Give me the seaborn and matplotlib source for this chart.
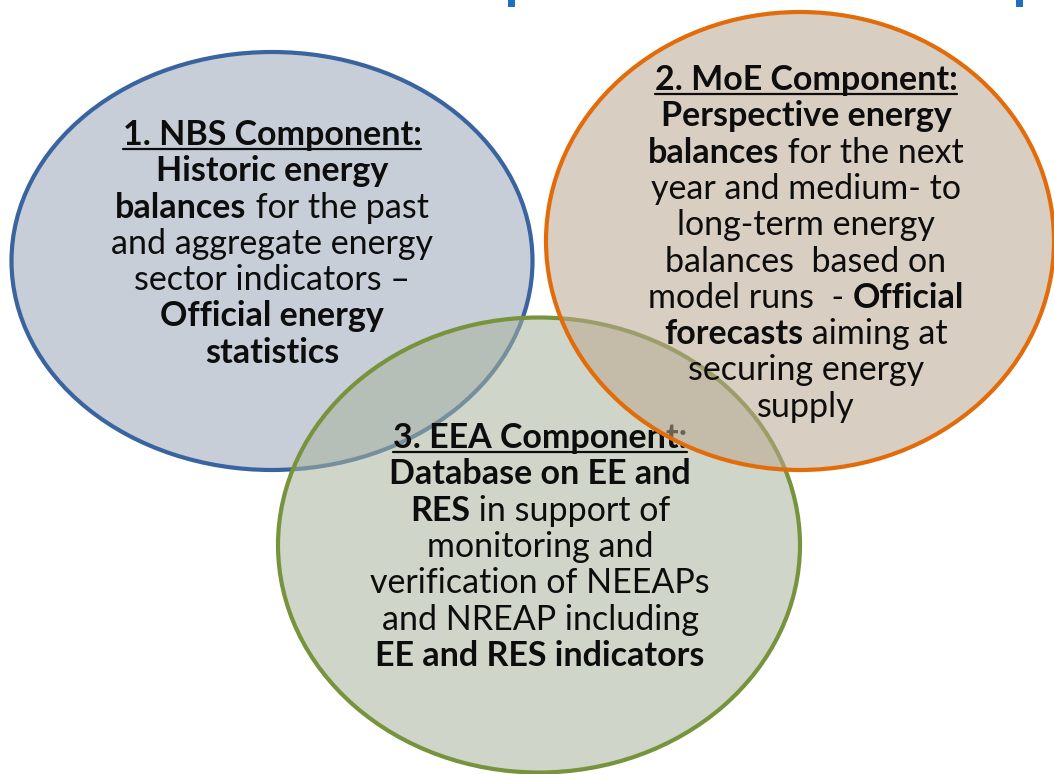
import matplotlib
matplotlib.use("Agg")
import matplotlib.pyplot as plt
from matplotlib.patches import Ellipse, Rectangle
import seaborn as sns

# text content of the three components, one entry per line, (text, bold) runs
nbs_lines = [
    [("1. NBS Component:", True)],
    [("Historic energy", True)],
    [("balances", True), (" for the past", False)],
    [("and aggregate energy", False)],
    [("sector indicators \u2013", False)],
    [("Official energy", True)],
    [("statistics", True)],
]
moe_lines = [
    [("2. MoE Component:", True)],
    [("Perspective energy", True)],
    [("balances", True), (" for the next", False)],
    [("year and medium- to", False)],
    [("long-term energy", False)],
    [("balances  based on", False)],
    [("model runs  - ", False), ("Official", True)],
    [("forecasts", True), (" aiming at", False)],
    [("securing energy", False)],
    [("supply", False)],
]
eea_lines = [
    [("3. EEA Component:", True)],
    [("Database on EE and", True)],
    [("RES", True), (" in support of", False)],
    [("monitoring and", False)],
    [("verification of NEEAPs", False)],
    [("and NREAP including", False)],
    [("EE and RES indicators", True)],
]

sns.set_theme(style="white")
plt.rcParams['font.family'] = ['Lato', 'DejaVu Sans']

W, H = 1054, 774
fig = plt.figure(figsize=(W / 100, H / 100), dpi=100)
ax = fig.add_axes([0, 0, 1, 1])
ax.set_xlim(0, W)
ax.set_ylim(H, 0)
ax.axis('off')

FS = 24.5
LINE = 36.3


def circle(cx, cy, w, h, face, edge, z):
    ax.add_patch(Ellipse((cx, cy), w, h, facecolor=face, edgecolor='none',
                         alpha=0.55, zorder=z))
    ax.add_patch(Ellipse((cx, cy), w, h, facecolor='none', edgecolor=edge,
                         lw=3, zorder=z))


def block(lines, cx, y0, z):
    renderer = fig.canvas.get_renderer()
    for i, runs in enumerate(lines):
        y = y0 + i * LINE
        texts = []
        for s, b in runs:
            t = ax.text(0, y, s, fontsize=FS, fontweight='bold' if b else 'normal',
                        ha='left', va='baseline', color='#0d0d0d', zorder=z)
            texts.append(t)
        widths = [t.get_window_extent(renderer).width for t in texts]
        x = cx - sum(widths) / 2
        start = x
        for t, w in zip(texts, widths):
            t.set_x(x)
            x += w
        if i == 0:
            ax.plot([start, x], [y + 4, y + 4], color='#0d0d0d', lw=1.6, zorder=z)


circle(272, 261, 521, 418, '#9aa6b8', '#3a64a0', 1)
block(nbs_lines, 272, 145, 2)
circle(539, 545, 522, 455, '#a9b39c', '#77933c', 3)
block(eea_lines, 540, 448, 4)
circle(800, 241, 508, 458, '#bba791', '#e36c0a', 5)
block(moe_lines, 806, 90, 6)

# small blue handles at the top edge
for hx in (508, 1016):
    ax.add_patch(Rectangle((hx, -2), 7, 9, facecolor='#1f6fc1', edgecolor='none', zorder=7))

fig.savefig('out.png', dpi=100)
